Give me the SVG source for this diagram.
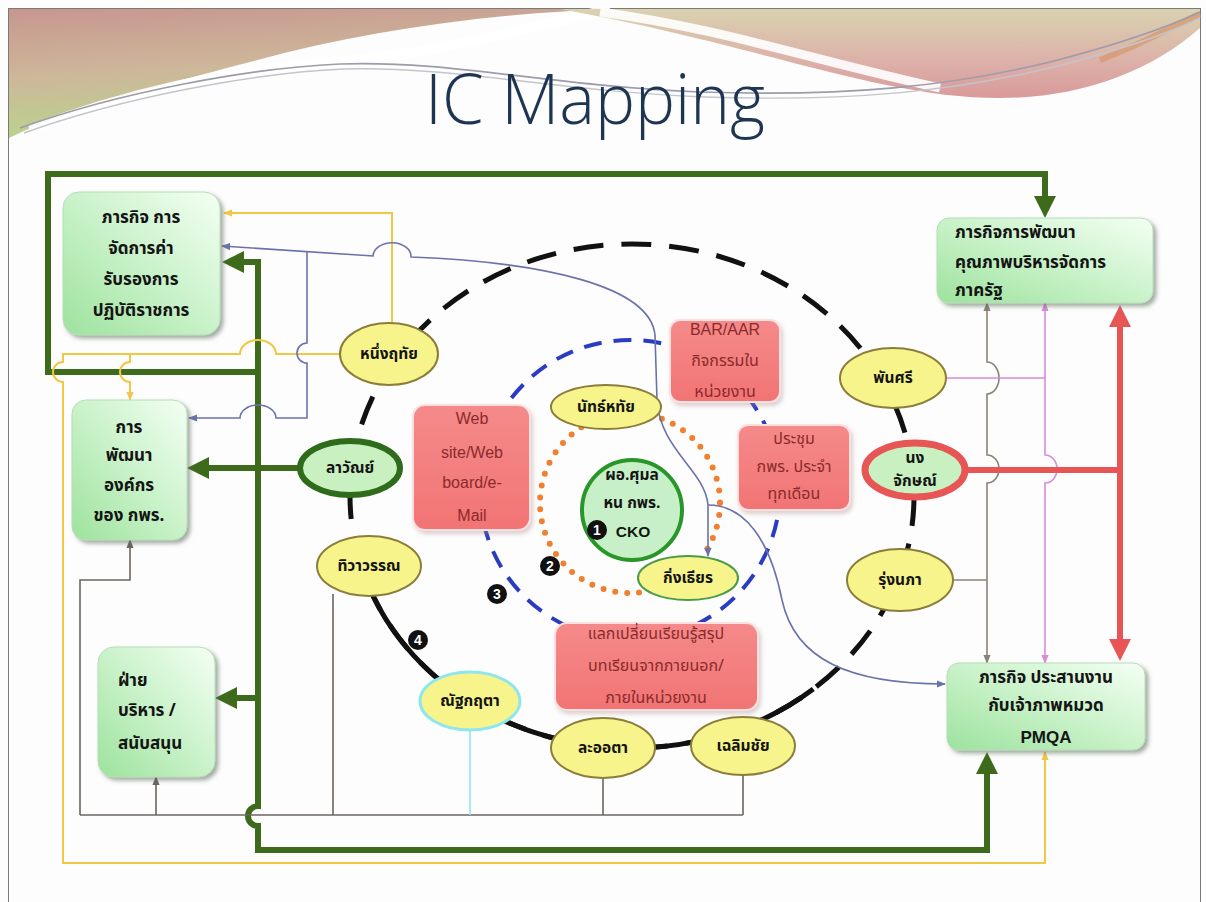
<svg xmlns="http://www.w3.org/2000/svg" width="1206" height="902" viewBox="0 0 1206 902">
  <defs>
    <style>
      .th { font-family: "Noto Sans Thai", "Noto Sans", "DejaVu Sans", sans-serif; }
      .bxt { font-weight: bold; font-size: 17px; fill: #141414; }
      .elt { font-weight: bold; font-size: 15.5px; fill: #141414; text-anchor: middle; }
      .pkt { font-size: 16px; fill: #8b2b2b; text-anchor: middle; }
      .lat { font-family: "Liberation Sans", Arial, sans-serif; }
      .box { fill: url(#gBox); stroke: #b9dcb9; stroke-width: 1; filter: url(#shadow); }
      .pink { fill: url(#gPink); stroke: #fbe0e0; stroke-width: 2; filter: url(#shadowL); }
      .yel { fill: #f7f48c; stroke: #8b7d3a; stroke-width: 2; }
      .thin { fill: none; stroke-width: 1.6; }
      .green { fill: none; stroke: #3d6b1b; stroke-width: 6; }
      .yl { stroke: #f2c744; stroke-width: 2; }
      .bl { stroke: #6a72aa; }
      .br { stroke: #6b6560; }
      .br2 { stroke: #8a8275; }
      .pl { stroke: #d98ad9; }
      .num { fill: #111; }
      .numt { font-family: "Liberation Sans", Arial, sans-serif; font-weight: bold; font-size: 14px; fill: #fff; text-anchor: middle; }
    </style>
    <linearGradient id="gBox" x1="1" y1="0" x2="0" y2="1">
      <stop offset="0" stop-color="#f4fff4"/>
      <stop offset="0.5" stop-color="#c9f2c9"/>
      <stop offset="1" stop-color="#9de29d"/>
    </linearGradient>
    <linearGradient id="gPink" x1="0" y1="0" x2="0" y2="1">
      <stop offset="0" stop-color="#f58a8a"/>
      <stop offset="1" stop-color="#f27474"/>
    </linearGradient>
    <linearGradient id="gTopL" x1="0" y1="0" x2="0.25" y2="1">
      <stop offset="0" stop-color="#c8968f"/>
      <stop offset="0.5" stop-color="#cdb79a"/>
      <stop offset="1" stop-color="#b9d58c"/>
    </linearGradient>
    <linearGradient id="gTopR" x1="0" y1="0" x2="0" y2="1">
      <stop offset="0" stop-color="#d9d2b0"/>
      <stop offset="0.6" stop-color="#dcb0a8"/>
      <stop offset="1" stop-color="#d99a9a"/>
    </linearGradient>
    <filter id="shadow" x="-10%" y="-10%" width="125%" height="125%">
      <feDropShadow dx="3" dy="3" stdDeviation="2" flood-color="#556655" flood-opacity="0.55"/>
    </filter>
    <filter id="shadowL" x="-10%" y="-10%" width="125%" height="125%">
      <feDropShadow dx="2" dy="3" stdDeviation="2" flood-color="#aa8888" flood-opacity="0.4"/>
    </filter>
    <!-- arrowheads -->
    <marker id="mG" viewBox="0 0 22 22" refX="2" refY="11" markerWidth="22" markerHeight="22" markerUnits="userSpaceOnUse" orient="auto-start-reverse">
      <path d="M0,0 L22,11 L0,22 Z" fill="#3d6b1b"/>
    </marker>
    <marker id="mR" viewBox="0 0 22 22" refX="2" refY="11" markerWidth="22" markerHeight="22" markerUnits="userSpaceOnUse" orient="auto-start-reverse">
      <path d="M0,0 L22,11 L0,22 Z" fill="#e85555"/>
    </marker>
    <marker id="mY" viewBox="0 0 10 10" refX="9" refY="5" markerWidth="9" markerHeight="9" markerUnits="userSpaceOnUse" orient="auto-start-reverse">
      <path d="M0,1 L10,5 L0,9 Z" fill="#f2c744"/>
    </marker>
    <marker id="mB" viewBox="0 0 10 10" refX="9" refY="5" markerWidth="9" markerHeight="9" markerUnits="userSpaceOnUse" orient="auto-start-reverse">
      <path d="M0,1 L10,5 L0,9 Z" fill="#6a72aa"/>
    </marker>
    <marker id="mBr" viewBox="0 0 10 10" refX="9" refY="5" markerWidth="9" markerHeight="9" markerUnits="userSpaceOnUse" orient="auto-start-reverse">
      <path d="M0,1 L10,5 L0,9 Z" fill="#6b6560"/>
    </marker>
    <marker id="mBr2" viewBox="0 0 10 10" refX="9" refY="5" markerWidth="9" markerHeight="9" markerUnits="userSpaceOnUse" orient="auto-start-reverse">
      <path d="M0,1 L10,5 L0,9 Z" fill="#8a8275"/>
    </marker>
    <marker id="mP" viewBox="0 0 10 10" refX="9" refY="5" markerWidth="9" markerHeight="9" markerUnits="userSpaceOnUse" orient="auto-start-reverse">
      <path d="M0,1 L10,5 L0,9 Z" fill="#d98ad9"/>
    </marker>
  </defs>

  <!-- slide background and frame -->
  <rect x="0" y="0" width="1206" height="902" fill="#fdfdfd"/>
  <rect x="8.5" y="8.5" width="1192" height="900" fill="none" stroke="#7a7a7a" stroke-width="1"/>

  <!-- header swooshes -->
  <g id="header">
    <path d="M9,9 L610,9 C 480,14 360,32 250,62 C 150,88 60,112 9,138 Z" fill="url(#gTopL)"/>
    <path d="M30,130 C 120,95 230,70 330,62 C 430,55 520,30 610,9" fill="none" stroke="#ffffff" stroke-width="10" opacity="0.9"/>
    <path d="M560,9 L1200,9 L1200,28 C 1150,72 1080,98 1000,98 C 880,98 760,45 560,9 Z" fill="url(#gTopR)"/>
    <path d="M600,12 C 720,28 820,62 940,88" fill="none" stroke="#ffffff" stroke-width="9" opacity="0.9"/>
    <path d="M1100,60 C 1140,45 1175,25 1200,14" fill="none" stroke="#d89a70" stroke-width="6" opacity="0.8"/>
    <path d="M20,128 C 120,92 250,68 340,64 C 450,60 550,86 700,92 C 850,97 950,86 1050,62 C 1120,44 1170,26 1200,12" fill="none" stroke="#9c9cab" stroke-width="1.6"/>
    <path d="M24,133 C 124,97 254,73 344,69 C 454,66 554,91 704,97 C 854,102 954,91 1054,67 C 1124,49 1174,31 1200,18" fill="none" stroke="#c4c4cc" stroke-width="1.4"/>
    <text x="425" y="124" textLength="340" lengthAdjust="spacingAndGlyphs" font-family="Open Sans, Liberation Sans, Arial, sans-serif" font-weight="300" font-size="70" fill="#1d3553">IC Mapping</text>
  </g>

  <!-- circles of the knowledge network -->
  <g id="rings">
    <ellipse cx="632" cy="496" rx="282" ry="252" fill="none" stroke="#111" stroke-width="5" stroke-dasharray="30 18"/>
    <path d="M360.9,565.5 A282,252 0 0 0 813.3,689" fill="none" stroke="#111" stroke-width="5"/>
    <circle cx="630" cy="490" r="150" fill="none" stroke="#2a3cc0" stroke-width="4" stroke-dasharray="18 12"/>
    <circle cx="630" cy="503" r="90" fill="none" stroke="#f08030" stroke-width="6" stroke-dasharray="0 12" stroke-linecap="round"/>
  </g>

  <!-- connectors -->
  <g id="connectors">
    <!-- green main routes -->
    <path class="green" d="M258,372 L48,372 L48,174 L1045,174 L1045,198" marker-end="url(#mG)"/>
    <path class="green" d="M987,772 L987,850 L258,850 L258,826 A10,10 0 0 1 258,806 L258,262 L242,262" marker-start="url(#mG)" marker-end="url(#mG)"/>
    <path class="green" d="M298,468 L207,468" marker-end="url(#mG)"/>
    <path class="green" d="M258,698 L235,698" marker-end="url(#mG)"/>

    <!-- yellow routes -->
    <path class="thin yl" d="M392,323 L392,213 L224,213" marker-end="url(#mY)"/>
    <path class="thin yl" d="M340,354 L276,354 A18,14 0 0 0 240,354 L63,354 L63,362 A10,10 0 0 0 63,382 L63,863 L1045,863 L1045,752" marker-end="url(#mY)"/>
    <path class="thin yl" d="M130,354 L130,362 A10,10 0 0 0 130,382 L130,400" marker-end="url(#mY)"/>

    <!-- blue routes -->
    <path class="thin bl" d="M222,246 L373,256 A18,13 0 0 1 411,257 C 540,262 650,285 655,335 L657,400 C 660,450 705,470 708,505 L708,556" marker-start="url(#mB)" marker-end="url(#mB)"/>
    <path class="thin bl" d="M708,505 C 745,505 770,540 782,600 C 795,660 850,684 945,684" marker-end="url(#mB)"/>
    <path class="thin bl" d="M307,251 L307,343 A10,10 0 0 0 307,363 L307,418 L276,418 A18,13 0 0 0 240,418 L189,418" marker-end="url(#mB)"/>

    <!-- gray collector at the bottom -->
    <path class="thin br" d="M80,815 L743,815"/>
    <path class="thin br" d="M743,775 L743,815 M603,778 L603,815 M333,594 L333,815"/>
    <path class="thin" d="M470,730 L470,815" stroke="#8fe6ee" stroke-width="2"/>
    <path class="thin br" d="M80,815 L80,580 L130,580 L130,540" marker-end="url(#mBr)"/>
    <path class="thin br" d="M156,815 L156,777" marker-end="url(#mBr)"/>

    <!-- right-hand routes -->
    <path class="thin br2" d="M987,303 L987,362 A12,16 0 0 1 987,394 L987,455 A12,14 0 0 1 987,483 L987,663" marker-start="url(#mBr2)" marker-end="url(#mBr2)"/>
    <path class="thin br2" d="M953,580 L987,580"/>
    <path class="thin pl" d="M1045,303 L1045,455 A12,14 0 0 1 1045,483 L1045,663" marker-start="url(#mP)" marker-end="url(#mP)"/>
    <path class="thin pl" d="M947,378 L1045,378"/>
    <path d="M1120,325 L1120,641" fill="none" stroke="#e85555" stroke-width="6" marker-start="url(#mR)" marker-end="url(#mR)"/>
    <path d="M967,470 L1120,470" fill="none" stroke="#e85555" stroke-width="6"/>
  </g>

  <!-- mission boxes -->
  <g id="box-service" class="th">
    <rect class="box" x="63" y="192" width="157" height="143" rx="16"/>
    <text class="bxt" text-anchor="middle"><tspan x="141" y="223">ภารกิจ การ</tspan><tspan x="141" y="254">จัดการค่า</tspan><tspan x="141" y="285">รับรองการ</tspan><tspan x="141" y="316">ปฏิบัติราชการ</tspan></text>
  </g>
  <g id="box-orgdev" class="th">
    <rect class="box" x="72" y="400" width="115" height="140" rx="14"/>
    <text class="bxt" text-anchor="middle"><tspan x="129" y="433">การ</tspan><tspan x="129" y="461">พัฒนา</tspan><tspan x="129" y="491">องค์กร</tspan><tspan x="129" y="521">ของ กพร.</tspan></text>
  </g>
  <g id="box-admin" class="th">
    <rect class="box" x="98" y="647" width="117" height="130" rx="16"/>
    <text class="bxt"><tspan x="118" y="686">ฝ่าย</tspan><tspan x="118" y="716">บริหาร /</tspan><tspan x="118" y="749">สนับสนุน</tspan></text>
  </g>
  <g id="box-quality" class="th">
    <rect class="box" x="937" y="218" width="216" height="85" rx="12"/>
    <text class="bxt" font-size="16"><tspan x="955" y="238">ภารกิจการพัฒนา</tspan><tspan x="955" y="268">คุณภาพบริหารจัดการ</tspan><tspan x="955" y="296">ภาครัฐ</tspan></text>
  </g>
  <g id="box-pmqa" class="th">
    <rect class="box" x="947" y="663" width="198" height="87" rx="12"/>
    <text class="bxt" text-anchor="middle"><tspan x="1046" y="683">ภารกิจ ประสานงาน</tspan><tspan x="1046" y="711">กับเจ้าภาพหมวด</tspan><tspan x="1046" y="743" class="lat">PMQA</tspan></text>
  </g>

  <!-- activity boxes -->
  <g id="act-web">
    <rect class="pink" x="413" y="405" width="117" height="125" rx="12"/>
    <text class="pkt lat"><tspan x="472" y="424">Web</tspan><tspan x="472" y="458">site/Web</tspan><tspan x="472" y="488">board/e-</tspan><tspan x="472" y="521">Mail</tspan></text>
  </g>
  <g id="act-bar" class="th">
    <rect class="pink" x="670" y="320" width="110" height="82" rx="10"/>
    <text class="pkt"><tspan x="725" y="335" class="lat">BAR/AAR</tspan><tspan x="725" y="366">กิจกรรมใน</tspan><tspan x="725" y="397">หน่วยงาน</tspan></text>
  </g>
  <g id="act-meeting" class="th">
    <rect class="pink" x="738" y="425" width="112" height="85" rx="10"/>
    <text class="pkt"><tspan x="794" y="444">ประชุม</tspan><tspan x="794" y="472">กพร. ประจำ</tspan><tspan x="794" y="499">ทุกเดือน</tspan></text>
  </g>
  <g id="act-exchange" class="th">
    <rect class="pink" x="555" y="623" width="203" height="87" rx="12"/>
    <text class="pkt"><tspan x="656" y="639">แลกเปลี่ยนเรียนรู้สรุป</tspan><tspan x="656" y="671">บทเรียนจากภายนอก/</tspan><tspan x="656" y="703">ภายในหน่วยงาน</tspan></text>
  </g>

  <!-- people -->
  <g id="p-nuengruthai" class="th">
    <ellipse class="yel" cx="389" cy="354" rx="49" ry="31"/>
    <text class="elt" x="389" y="359">หนึ่งฤทัย</text>
  </g>
  <g id="p-natthai" class="th">
    <ellipse class="yel" cx="606" cy="407" rx="55" ry="22"/>
    <text class="elt" x="606" y="412">นัทธ์หทัย</text>
  </g>
  <g id="p-lawan" class="th">
    <ellipse cx="350" cy="468" rx="50" ry="27" fill="#c8f0c0" stroke="#2e6b1a" stroke-width="6"/>
    <text class="elt" x="350" y="473">ลาวัณย์</text>
  </g>
  <g id="p-thiwawan" class="th">
    <ellipse class="yel" cx="369" cy="566" rx="52" ry="30"/>
    <text class="elt" x="369" y="571">ทิวาวรรณ</text>
  </g>
  <g id="p-natkritta" class="th">
    <ellipse cx="470" cy="701" rx="50" ry="29" fill="#f7f48c" stroke="#8fe6ee" stroke-width="3"/>
    <text class="elt" x="470" y="706">ณัฐกฤตา</text>
  </g>
  <g id="p-laorta" class="th">
    <ellipse class="yel" cx="603" cy="748" rx="52" ry="30" stroke="#6e5a30"/>
    <text class="elt" x="603" y="753">ละออตา</text>
  </g>
  <g id="p-chalermchai" class="th">
    <ellipse class="yel" cx="743" cy="746" rx="52" ry="29"/>
    <text class="elt" x="743" y="751">เฉลิมชัย</text>
  </g>
  <g id="p-kingthian" class="th">
    <ellipse cx="688" cy="578" rx="50" ry="22" fill="#f7f48c" stroke="#4a9a4a" stroke-width="2"/>
    <text class="elt" x="688" y="583">กิ่งเธียร</text>
  </g>
  <g id="p-phansri" class="th">
    <ellipse class="yel" cx="893" cy="378" rx="53" ry="30"/>
    <text class="elt" x="893" y="383">พันศรี</text>
  </g>
  <g id="p-nongjak" class="th">
    <ellipse cx="915" cy="470" rx="50" ry="27" fill="#c8f0c0" stroke="#e85555" stroke-width="7"/>
    <text class="elt"><tspan x="915" y="463">นง</tspan><tspan x="915" y="486">จักษณ์</tspan></text>
  </g>
  <g id="p-rungnapa" class="th">
    <ellipse class="yel" cx="900" cy="580" rx="53" ry="31"/>
    <text class="elt" x="900" y="585">รุ่งนภา</text>
  </g>

  <!-- knowledge officer at the centre -->
  <g id="cko" class="th">
    <circle cx="632" cy="510" r="50" fill="#c8f0c8" stroke="#2a962a" stroke-width="4"/>
    <text class="elt"><tspan x="632" y="480">ผอ.ศุมล</tspan><tspan x="632" y="508">หน กพร.</tspan><tspan x="633" y="537" class="lat">CKO</tspan></text>
  </g>

  <!-- ring numbers -->
  <g id="ring-numbers">
    <circle class="num" cx="597" cy="530" r="10"/><text class="numt" x="597" y="535">1</text>
    <circle class="num" cx="550" cy="566" r="10"/><text class="numt" x="550" y="571">2</text>
    <circle class="num" cx="497" cy="594" r="10"/><text class="numt" x="497" y="599">3</text>
    <circle class="num" cx="418" cy="640" r="10"/><text class="numt" x="418" y="645">4</text>
  </g>
</svg>
